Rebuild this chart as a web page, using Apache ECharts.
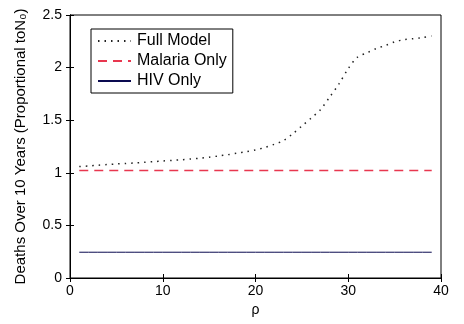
<!DOCTYPE html>
<html>
<head>
<meta charset="utf-8">
<script src="https://cdn.jsdelivr.net/npm/echarts@6/dist/echarts.min.js"></script>
<style>
  html, body { margin: 0; padding: 0; background: #fff; }
  #chart { width: 464px; height: 324px; }
</style>
</head>
<body>
<div id="chart"></div>
<script>
// rho values 1..39
var rho = [];
for (var i = 1; i <= 39; i++) rho.push(i);

var fullModel = [1.060, 1.065, 1.072, 1.078, 1.084, 1.089, 1.094, 1.100, 1.106, 1.112,
                 1.118, 1.124, 1.131, 1.139, 1.148, 1.160, 1.172, 1.186, 1.200, 1.218,
                 1.240, 1.270, 1.305, 1.370, 1.445, 1.520, 1.600, 1.720, 1.845, 1.990,
                 2.100, 2.140, 2.180, 2.210, 2.245, 2.265, 2.275, 2.285, 2.300];
var malariaOnly = 1.023;
var hivOnly = 0.245;

function pairs(vals) {
    return rho.map(function (r, i) {
        return [r, Array.isArray(vals) ? vals[i] : vals];
    });
}

var font = 'Liberation Sans, Arial, sans-serif';
var chart = echarts.init(document.getElementById('chart'));

var options = {
    animation: false,
    backgroundColor: '#fff',
    grid: { left: 70, right: 23, top: 15, bottom: 46, show: true, borderColor: '#000', borderWidth: 1 },
    legend: {
        orient: 'vertical',
        left: 91,
        top: 29,
        itemWidth: 33,
        itemHeight: 14,
        itemGap: 4,
        padding: [4, 6, 4, 6],
        borderColor: '#000',
        borderWidth: 1,
        backgroundColor: '#fff',
        itemStyle: { opacity: 0 },
        textStyle: { fontFamily: font, fontSize: 16, color: '#000', padding: [0, 0, 0, 1] },
        data: ['Full Model', 'Malaria Only', 'HIV Only']
    },
    xAxis: [
        {
            type: 'value', min: 0, max: 40, interval: 10,
            name: 'ρ', nameLocation: 'middle', nameGap: 24,
            nameTextStyle: { fontFamily: font, fontSize: 14, color: '#000' },
            axisLine: { lineStyle: { color: '#000' } },
            axisTick: { inside: true, length: 4, lineStyle: { color: '#000' } },
            axisLabel: { fontFamily: font, fontSize: 14, color: '#000', margin: 6 },
            splitLine: { show: false }
        },
        {
            type: 'value', min: 0, max: 40, interval: 10, position: 'top',
            axisLine: { lineStyle: { color: '#000' } },
            axisTick: { inside: true, length: 4, lineStyle: { color: '#000' } },
            axisLabel: { show: false }, splitLine: { show: false }
        }
    ],
    yAxis: [
        {
            type: 'value', min: 0, max: 2.5, interval: 0.5,
            name: 'Deaths Over 10 Years (Proportional toN\u2080)',
            nameLocation: 'middle', nameGap: 42,
            nameTextStyle: { fontFamily: font, fontSize: 15, color: '#000', padding: [0, 0, 0, 0] },
            axisLine: { show: true, lineStyle: { color: '#000' } },
            axisTick: { show: true, inside: true, length: 4, lineStyle: { color: '#000' } },
            axisLabel: { fontFamily: font, fontSize: 14, color: '#000', margin: 8 },
            splitLine: { show: false }
        },
        {
            type: 'value', min: 0, max: 2.5, interval: 0.5, position: 'right',
            axisLine: { show: true, lineStyle: { color: '#000' } },
            axisTick: { show: true, inside: true, length: 4, lineStyle: { color: '#000' } },
            axisLabel: { show: false }, splitLine: { show: false }
        }
    ],
    series: [
        {
            name: 'Full Model', type: 'line', data: pairs(fullModel),
            symbol: 'none', smooth: 0.3,
            itemStyle: { color: '#222' },
            lineStyle: { color: '#222', width: 1.5, type: [1.5, 5] }
        },
        {
            name: 'Malaria Only', type: 'line', data: pairs(malariaOnly),
            symbol: 'none',
            itemStyle: { color: '#e8374f' },
            lineStyle: { color: '#e8374f', width: 1.5, type: [9, 6] }
        },
        {
            name: 'HIV Only', type: 'line', data: pairs(hivOnly),
            symbol: 'none',
            itemStyle: { color: '#0a0a50' },
            lineStyle: { color: '#0a0a50', width: 1, type: 'solid' }
        }
    ]
};

chart.setOption(options);
</script>
</body>
</html>
